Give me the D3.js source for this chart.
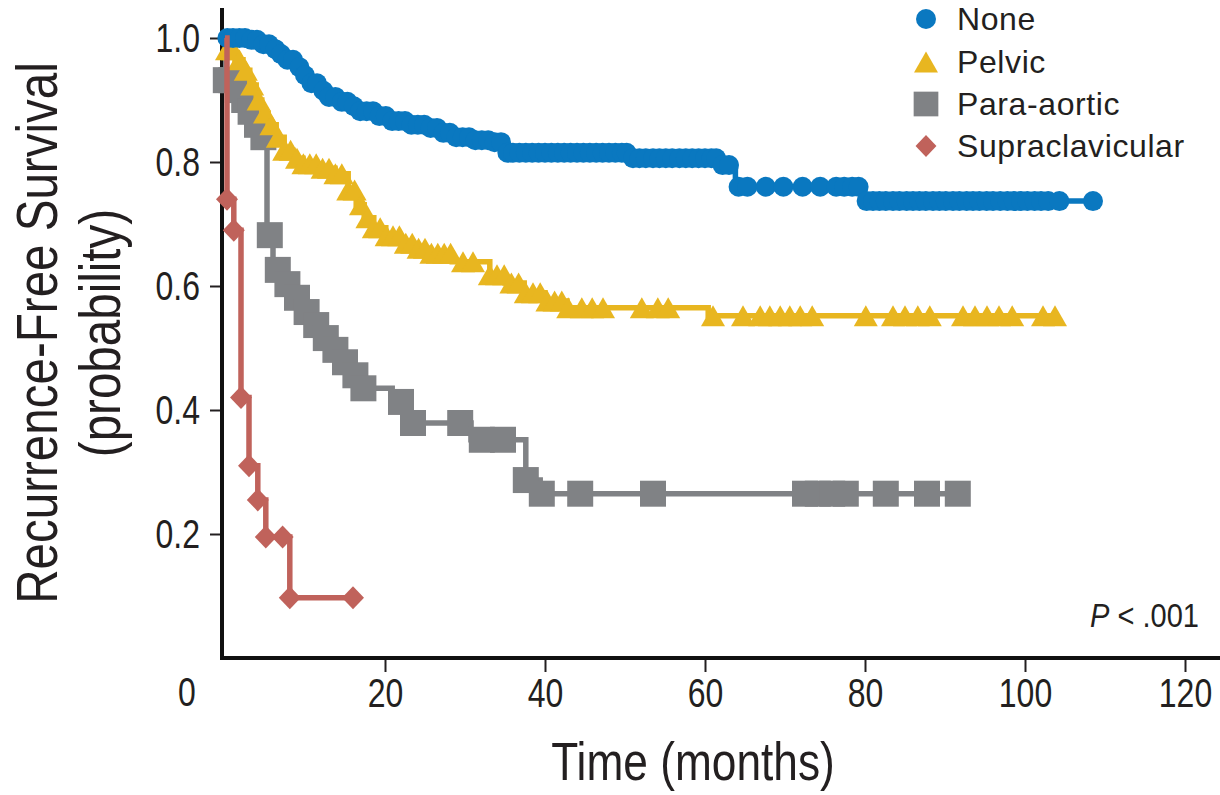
<!DOCTYPE html>
<html>
<head>
<meta charset="utf-8">
<script src="https://cdn.jsdelivr.net/npm/d3@7/dist/d3.min.js"></script>
<style>
  html, body { margin: 0; padding: 0; background: #fff; }
  svg { display: block; }
  text { font-family: "Liberation Sans", Arial, Helvetica, sans-serif; }
</style>
</head>
<body>
<svg id="chart" width="1220" height="795"></svg>
<script>
// ---- Kaplan-Meier step curves (months, probability) ----
const noneTimes = [0, 3.1, 4.6, 5.6, 6.6, 7.6, 8.6, 9.6, 10.6, 11.6, 12.6, 13.9, 15.4, 16.9, 18.8, 20.6, 23.1, 25.0, 26.9, 28.8, 30.6, 33.1, 35.1, 50.4, 61.6, 63.8, 79.6];
const noneSurv  = [1.0, 0.997, 0.990, 0.982, 0.974, 0.965, 0.953, 0.940, 0.927, 0.915, 0.905, 0.897, 0.890, 0.882, 0.874, 0.866, 0.860, 0.855, 0.847, 0.840, 0.835, 0.832, 0.815, 0.806, 0.795, 0.760, 0.737];
const noneEnd = 108.5;
const noneCensor = [0.3, 1.0, 1.8, 2.5, 3.3, 4.0, 4.8, 5.5, 6.3, 7.0, 7.8, 8.5, 9.3, 10.0, 10.8, 11.5, 12.3, 13.0, 13.8, 14.6, 15.3, 16.1, 16.9, 17.7, 18.5, 19.3, 20.1, 20.9, 21.7, 22.5, 23.3, 24.1, 24.9, 25.7, 26.5, 27.3, 28.1, 28.9, 29.7, 30.5, 31.3, 32.1, 32.9, 33.7, 34.5,
  35.3, 36.0, 36.8, 37.6, 38.4, 39.2, 40.0, 40.8, 41.6, 42.4, 43.2, 44.0, 44.8, 45.6, 46.4, 47.2, 48.0, 48.8, 49.6, 50.2,
  51.0, 51.8, 52.6, 53.5, 54.3, 55.1, 55.9, 56.8, 57.6, 58.4, 59.2, 60.0, 60.8, 61.4, 62.2, 63.0,
  64.2, 65.3, 67.6, 69.8, 72.2, 74.4, 76.4, 77.4, 78.4, 79.2,
  80.2, 81.0, 81.8, 82.6, 83.5, 84.3, 85.2, 86.0, 86.8, 87.6, 88.5, 89.3, 90.1, 91.0, 91.8, 92.7, 93.5, 94.3, 95.2, 96.0, 96.9, 97.8, 98.6, 99.5, 100.3, 101.2, 102.0, 102.9, 104.3, 108.5];

const pelvicTimes = [0, 0.25, 1.25, 2.25, 3.1, 3.9, 4.6, 5.4, 6.4, 7.4, 8.5, 9.75, 11.6, 13.75, 15.4, 16.4, 17.4, 18.6, 20.1, 21.9, 23.6, 25.6, 28.4, 33.1, 35.0, 37.4, 40.0, 42.75, 60.4];
const pelvicSurv  = [1.0, 0.981, 0.965, 0.948, 0.924, 0.900, 0.879, 0.860, 0.840, 0.819, 0.806, 0.797, 0.790, 0.781, 0.755, 0.731, 0.710, 0.694, 0.681, 0.669, 0.661, 0.653, 0.639, 0.618, 0.605, 0.589, 0.576, 0.565, 0.552];
const pelvicEnd = 104.1;
const pelvicCensor = [0.25, 1.0, 1.8, 2.6, 3.4, 4.2, 5.0, 5.8, 6.6, 7.4, 8.2, 9.0, 9.8, 10.6, 11.4, 12.2, 13.0, 13.8, 14.6, 15.4, 16.2, 17.0, 17.8, 18.6, 19.4, 20.2, 21.0, 21.8, 22.6, 23.4, 24.2, 25.0, 25.8, 26.6, 27.4, 28.2,
  29.75, 31.0, 33.1, 34.0, 34.9, 35.8, 36.7, 37.6, 38.5, 39.4, 40.3, 41.2, 42.1, 42.9,
  44.6, 45.9, 47.25, 52.1, 54.1, 55.4, 61.0, 64.75, 66.9, 68.1, 69.4, 70.6, 71.9, 73.4, 80.1, 83.5, 85.0, 86.6, 88.1, 92.25, 93.75, 95.25, 96.75, 98.4, 102.25, 103.75];

const paraTimes = [0, 0.1, 1.0, 1.9, 2.75, 3.6, 4.4, 5.25, 6.0, 6.9, 8.1, 9.4, 10.6, 11.9, 13.1, 14.4, 15.6, 16.9, 20.9, 22.9, 30.75, 37.6, 39.4];
const paraSurv  = [1.0, 0.932, 0.916, 0.900, 0.881, 0.860, 0.840, 0.682, 0.626, 0.603, 0.581, 0.558, 0.537, 0.516, 0.497, 0.477, 0.456, 0.435, 0.413, 0.379, 0.352, 0.287, 0.265];
const paraEnd = 91.9;
const paraCensor = [0.1, 0.8, 1.6, 2.4, 3.2, 4.0, 4.8, 5.6, 6.6, 7.8, 9.0, 10.2, 11.4, 12.6, 13.8, 15.0, 16.3, 17.3, 22.0, 23.5, 29.4, 32.1, 34.75, 37.6, 39.6, 44.4, 53.5, 72.5, 74.1, 75.9, 77.6, 82.6, 87.75, 91.6];

const supraTimes = [0, 0.25, 1.1, 2.0, 3.0, 4.1, 5.1, 8.1];
const supraSurv  = [1.0, 0.74, 0.69, 0.42, 0.31, 0.255, 0.195, 0.097];
const supraEnd = 16.0;
const supraCensor = [0.25, 1.1, 2.0, 3.0, 4.1, 5.1, 7.2, 8.1, 16.0];

const groupNames = ["None", "Pelvic", "Para-aortic", "Supraclavicular"];
const xTicks = [20, 40, 60, 80, 100, 120];
const yTicks = [0.2, 0.4, 0.6, 0.8, 1.0];

// ---- styling ----
const colors = { "None": "#0a78c0", "Pelvic": "#e8b620", "Para-aortic": "#808285", "Supraclavicular": "#c0625b" };
const ink = "#231f20";
const NARROW = 0.78;   // horizontal squeeze for the condensed axis lettering

const groups = [
  { name: "Para-aortic", times: paraTimes, surv: paraSurv, end: paraEnd, censor: paraCensor },
  { name: "Pelvic", times: pelvicTimes, surv: pelvicSurv, end: pelvicEnd, censor: pelvicCensor },
  { name: "None", times: noneTimes, surv: noneSurv, end: noneEnd, censor: noneCensor },
  { name: "Supraclavicular", times: supraTimes, surv: supraSurv, end: supraEnd, censor: supraCensor }
];

const svg = d3.select("#chart");
const x = d3.scaleLinear().domain([0, 120]).range([225, 1185]);
const y = d3.scaleLinear().domain([0, 1]).range([658, 38]);

// marker shapes, centred on their bounding box
function markerPath(name, s) {
  if (name === "Pelvic") { const w = 12 * s, h = 10.5 * s; return `M0,${-h}L${w},${h}L${-w},${h}Z`; }
  if (name === "Para-aortic") { const a = 13 * s; return `M${-a},${-a}H${a}V${a}H${-a}Z`; }
  const d = 11 * s, e = 11.5 * s; return `M0,${-e}L${d},0L0,${e}L${-d},0Z`;
}
function drawMarker(sel, name, cx, cy, s) {
  if (name === "None") {
    sel.append("circle").attr("cx", cx).attr("cy", cy).attr("r", 10 * s).attr("fill", colors[name]);
  } else {
    sel.append("path").attr("d", markerPath(name, s)).attr("transform", `translate(${cx},${cy})`).attr("fill", colors[name]);
  }
}

function survAt(g, t) {
  let v = g.surv[0];
  for (let i = 0; i < g.times.length; i++) if (g.times[i] <= t + 1e-9) v = g.surv[i];
  return v;
}

// condensed text helper: squeezes horizontally around its anchor point
function narrowText(parent, px, py, str, size, anchor, squeeze, rotate) {
  const rot = rotate ? ` rotate(${rotate})` : "";
  return parent.append("text")
    .attr("transform", `translate(${px},${py})${rot} scale(${squeeze},1)`)
    .attr("text-anchor", anchor).attr("font-size", size).attr("fill", ink).text(str);
}

// ---- axes ----
const axisLayer = svg.append("g");
const xAxis = d3.axisBottom(x).tickValues(xTicks).tickSize(14).tickPadding(6).tickFormat(d3.format("d"));
const xg = axisLayer.append("g").attr("transform", `translate(0,${y(0)})`).call(xAxis);
xg.select(".domain").remove();
xg.selectAll(".tick line").attr("stroke", ink).attr("stroke-width", 2);
xg.selectAll(".tick text").attr("font-size", 41).attr("fill", ink)
  .attr("font-family", "Liberation Sans, Arial, sans-serif")
  .attr("transform", `scale(${NARROW},1)`);
// origin label sits left of the corner
narrowText(axisLayer, x(0) - 38, y(0) + 48, "0", 41, "middle", NARROW);

const yAxis = d3.axisLeft(y).tickValues(yTicks).tickSize(12).tickPadding(10).tickFormat(d3.format(".1f"));
const yg = axisLayer.append("g").attr("transform", `translate(222,0)`).call(yAxis);
yg.select(".domain").remove();
yg.selectAll(".tick line").attr("stroke", ink).attr("stroke-width", 2);
yg.selectAll(".tick text").attr("font-size", 41).attr("fill", ink)
  .attr("font-family", "Liberation Sans, Arial, sans-serif")
  .attr("x", -22 / NARROW).attr("transform", `scale(${NARROW},1)`);

axisLayer.append("line").attr("x1", 222).attr("x2", 222).attr("y1", 8).attr("y2", 660)
  .attr("stroke", "#111").attr("stroke-width", 4);
axisLayer.append("line").attr("x1", 220).attr("x2", 1220).attr("y1", 658).attr("y2", 658)
  .attr("stroke", "#111").attr("stroke-width", 4);

// axis titles
narrowText(svg, 693, 780, "Time (months)", 54, "middle", 0.82);
narrowText(svg, 57, 333, "Recurrence-Free Survival", 58, "middle", 0.82, -90);
narrowText(svg, 120, 333, "(probability)", 58, "middle", 0.82, -90);

// ---- curves ----
const line = d3.line().curve(d3.curveStepAfter).x(d => x(d[0])).y(d => y(d[1]));
groups.forEach(g => {
  const pts = g.times.map((t, i) => [t, g.surv[i]]);
  pts.push([g.end, g.surv[g.surv.length - 1]]);
  const layer = svg.append("g");
  layer.append("path").attr("d", line(pts)).attr("fill", "none")
    .attr("stroke", colors[g.name]).attr("stroke-width", 5.5).attr("stroke-linejoin", "miter");
  g.censor.forEach(t => drawMarker(layer, g.name, x(t), y(survAt(g, t)), 1));
});

// ---- legend ----
const legend = svg.append("g");
const legendRows = [19, 62, 104, 146];
groupNames.forEach((n, i) => {
  drawMarker(legend, n, 926, legendRows[i], (n === "Para-aortic" || n === "Supraclavicular") ? 0.95 : 1);
  legend.append("text").attr("x", 957).attr("y", legendRows[i] + 11)
    .attr("font-size", 32).attr("letter-spacing", 0.6).attr("fill", ink).text(n);
});

// ---- p-value ----
const pv = svg.append("text").attr("transform", "translate(1090,627) scale(0.88,1)")
  .attr("font-size", 33).attr("fill", ink);
pv.append("tspan").attr("font-style", "italic").text("P");
pv.append("tspan").text(" < .001");
</script>
</body>
</html>
